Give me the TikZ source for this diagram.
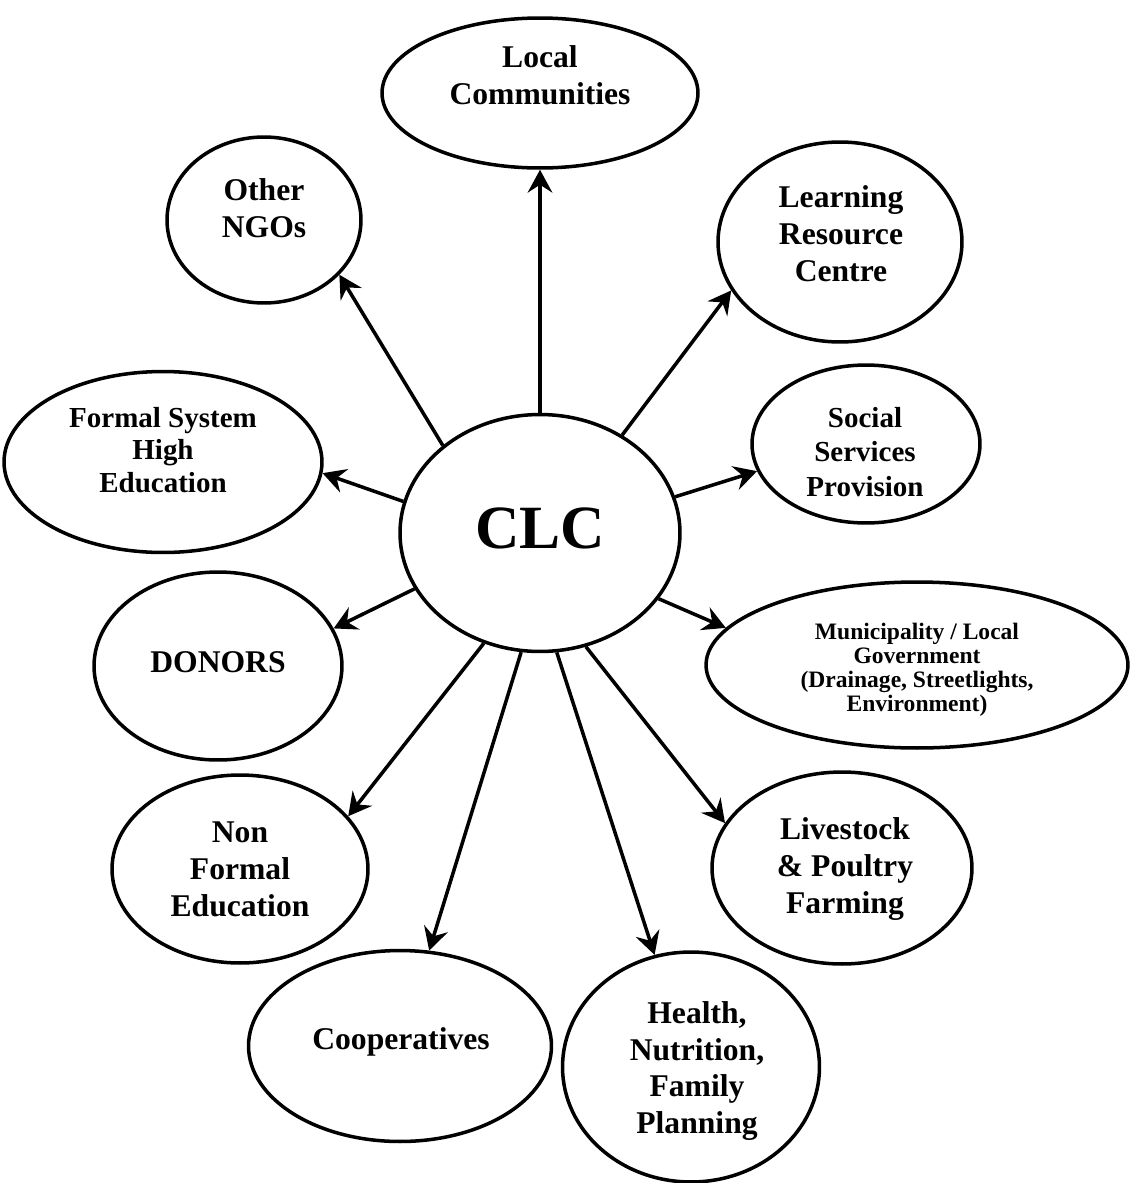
\documentclass[tikz,border=0pt]{standalone}
\usepackage{fontspec}
\setmainfont{Liberation Serif}
\usetikzlibrary{shapes.geometric,arrows.meta}

\begin{document}
\begin{tikzpicture}[x=0.02cm,y=-0.02cm,
  bubble/.style={draw,ellipse,line width=2pt,inner sep=0pt},
  lbl/.style={align=center,inner sep=0pt,font=\bfseries\fontsize{18}{21}\selectfont},
  arr/.style={line width=2pt,-{Stealth[length=13pt,width=14pt,inset=4.5pt]}}]
\useasboundingbox (0,0) rectangle (1130,1183);

% Centre
\node[bubble,minimum width=5.6cm,minimum height=4.74cm] (clc) at (540,533) {};
\node[lbl,font=\bfseries\fontsize{35}{40}\selectfont] (clct) at (540,528) {CLC};

% Partners
\node[bubble,minimum width=6.32cm,minimum height=3cm] (lc) at (540,93) {};
\node[lbl] (lct) at (540,75) {Local\\Communities};

\node[bubble,minimum width=3.88cm,minimum height=3.32cm] (ngo) at (264,220) {};
\node[lbl] (ngot) at (264,208) {Other\\NGOs};

\node[bubble,minimum width=4.88cm,minimum height=4cm] (lrc) at (840,242) {};
\node[lbl] (lrct) at (841,234) {Learning\\Resource\\Centre};

\node[bubble,minimum width=6.36cm,minimum height=3.62cm] (fse) at (163,462) {};
\node[lbl,font=\bfseries\fontsize{16.5}{18.7}\selectfont] (fset) at (163,450) {Formal System\\High\\Education};

\node[bubble,minimum width=4.56cm,minimum height=3.16cm] (ssp) at (866,444) {};
\node[lbl,font=\bfseries\fontsize{16.5}{19.8}\selectfont] (sspt) at (865,452) {Social\\Services\\Provision};

\node[bubble,minimum width=4.96cm,minimum height=3.76cm] (don) at (218,666) {};
\node[lbl] (dont) at (218,662) {DONORS};

\node[bubble,minimum width=8.44cm,minimum height=3.32cm] (mun) at (917,665) {};
\node[lbl,font=\bfseries\fontsize{13.4}{13.6}\selectfont] (munt) at (917,670) {Municipality / Local\\Government\\(Drainage, Streetlights,\\Environment)};

\node[bubble,minimum width=5.12cm,minimum height=3.76cm] (nfe) at (240,869) {};
\node[lbl] (nfet) at (240,869) {Non\\Formal\\Education};

\node[bubble,minimum width=5.2cm,minimum height=3.84cm] (liv) at (842,868) {};
\node[lbl] (livt) at (845,869) {Livestock\\\& Poultry\\Farming};

\node[bubble,minimum width=6.06cm,minimum height=3.82cm] (coop) at (400,1046) {};
\node[lbl] (coopt) at (401,1042) {Cooperatives};

\node[bubble,minimum width=5.14cm,minimum height=4.6cm] (hfp) at (691,1067) {};
\node[lbl] (hfpt) at (697,1071) {Health,\\Nutrition,\\Family\\Planning};

% Arrows
\foreach \t/\a/\b in {lc/90/-90, ngo/138.7/-36.2, fse/167.3/-4, don/204.1/18,
  nfe/243.4/26.1, coop/261.5/73.8, hfp/278.5/108.9, liv/292.2/159.1,
  mun/331.9/169.2, ssp/15.1/194.3, lrc/50.8/204.2} {
  \draw[arr] (clc.\a) -- (\t.\b);
}
\end{tikzpicture}
\end{document}
